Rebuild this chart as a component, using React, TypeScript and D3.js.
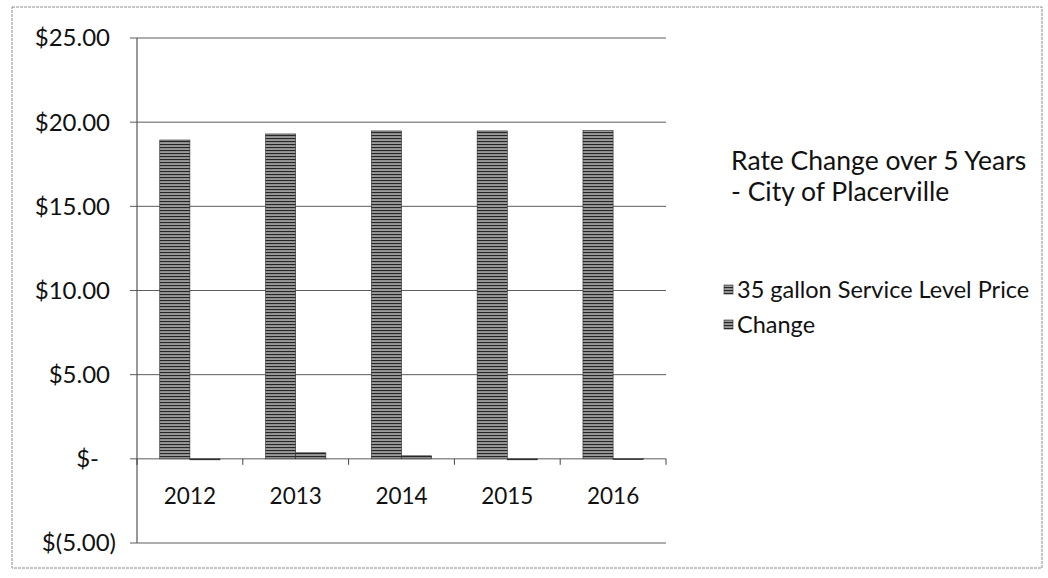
import React from "react";
import * as d3 from "d3";

const years = ["2012", "2013", "2014", "2015", "2016"];
const priceValues = [18.94, 19.3, 19.48, 19.48, 19.5];
const changeValues = [0, 0.36, 0.18, 0, 0.02];
const seriesNames = ["35 gallon Service Level Price", "Change"];
const yTicks = [-5, 0, 5, 10, 15, 20, 25];
const yTickLabels = ["$(5.00)", "$-", "$5.00", "$10.00", "$15.00", "$20.00", "$25.00"];
const titleLines = ["Rate Change over 5 Years", "- City of Placerville"];

const App: React.FC = () => {
  const width = 1048;
  const height = 578;
  const plot = { left: 137, right: 666, top: 38, bottom: 543 };
  const font = "Lato, 'Open Sans', sans-serif";

  const x = d3
    .scaleBand<string>()
    .domain(years)
    .range([plot.left, plot.right])
    .paddingInner(0.43)
    .paddingOuter(0.215);

  const inner = d3
    .scaleBand<number>()
    .domain([0, 1])
    .range([0, x.bandwidth()]);

  const y = d3.scaleLinear().domain([-5, 25]).range([plot.bottom, plot.top]);

  const series = [priceValues, changeValues];
  const step = x.step();

  return (
    <svg
      width={width}
      height={height}
      style={{ position: "absolute", left: 0, top: 0, background: "#fff" }}
      fontFamily={font}
    >
      <defs>
        <pattern id="hatch" width="6" height="3" patternUnits="userSpaceOnUse">
          <rect width="6" height="3" fill="#9a9a9a" />
          <rect width="6" height="1.1" fill="#262626" />
        </pattern>
      </defs>

      {/* outer chart border */}
      <rect
        x={12}
        y={7}
        width={1030}
        height={561}
        fill="none"
        stroke="#8c8c8c"
        strokeWidth={1}
        strokeDasharray="3,1"
      />

      {/* gridlines + y labels */}
      {yTicks.map((t, i) => (
        <g key={`y-${t}`}>
          <line
            x1={plot.left - 7}
            x2={plot.right}
            y1={y(t)}
            y2={y(t)}
            stroke="#4a4a4a"
            strokeWidth={0.9}
          />
          <text
            x={t < 0 ? 116 : t === 0 ? 99 : 110}
            y={y(t)}
            dy="0.35em"
            textAnchor="end"
            fontSize={24}
            fill="#111"
          >
            {yTickLabels[i]}
          </text>
        </g>
      ))}

      {/* y axis line */}
      <line
        x1={plot.left}
        x2={plot.left}
        y1={plot.top}
        y2={plot.bottom}
        stroke="#555"
        strokeWidth={1.2}
      />

      {/* bars */}
      {years.map((yr, ci) =>
        series.map((vals, si) => {
          const v = vals[ci];
          const bx = (x(yr) ?? 0) + (inner(si) ?? 0);
          const top = y(Math.max(0, v));
          const h = Math.abs(y(v) - y(0));
          return (
            <rect
              key={`${yr}-${si}`}
              x={bx}
              y={top}
              width={inner.bandwidth()}
              height={Math.max(h, 1)}
              fill="url(#hatch)"
              stroke="#2a2a2a"
              strokeWidth={0.6}
            />
          );
        })
      )}

      {/* zero-line category ticks */}
      {d3.range(years.length + 1).map((i) => (
        <line
          key={`tick-${i}`}
          x1={plot.left + i * step}
          x2={plot.left + i * step}
          y1={y(0)}
          y2={y(0) + 6}
          stroke="#444"
        />
      ))}

      {/* year labels */}
      {years.map((yr) => (
        <text
          key={`lab-${yr}`}
          x={(x(yr) ?? 0) + x.bandwidth() / 2}
          y={504}
          textAnchor="middle"
          fontSize={22.5}
          fill="#111"
        >
          {yr}
        </text>
      ))}

      {/* title */}
      {titleLines.map((line, i) => (
        <text key={`t-${i}`} x={731} y={170 + i * 31} fontSize={26.5} fill="#111">
          {line}
        </text>
      ))}

      {/* legend */}
      {seriesNames.map((name, i) => (
        <g key={`leg-${i}`} transform={`translate(724, ${290 + i * 35})`}>
          <rect
            x={0}
            y={-5}
            width={9}
            height={9}
            fill="url(#hatch)"
            stroke="#2a2a2a"
            strokeWidth={0.6}
          />
          <text x={13} y={0} dy="0.35em" fontSize={23.5} fill="#111">
            {name}
          </text>
        </g>
      ))}
    </svg>
  );
};

export default App;
